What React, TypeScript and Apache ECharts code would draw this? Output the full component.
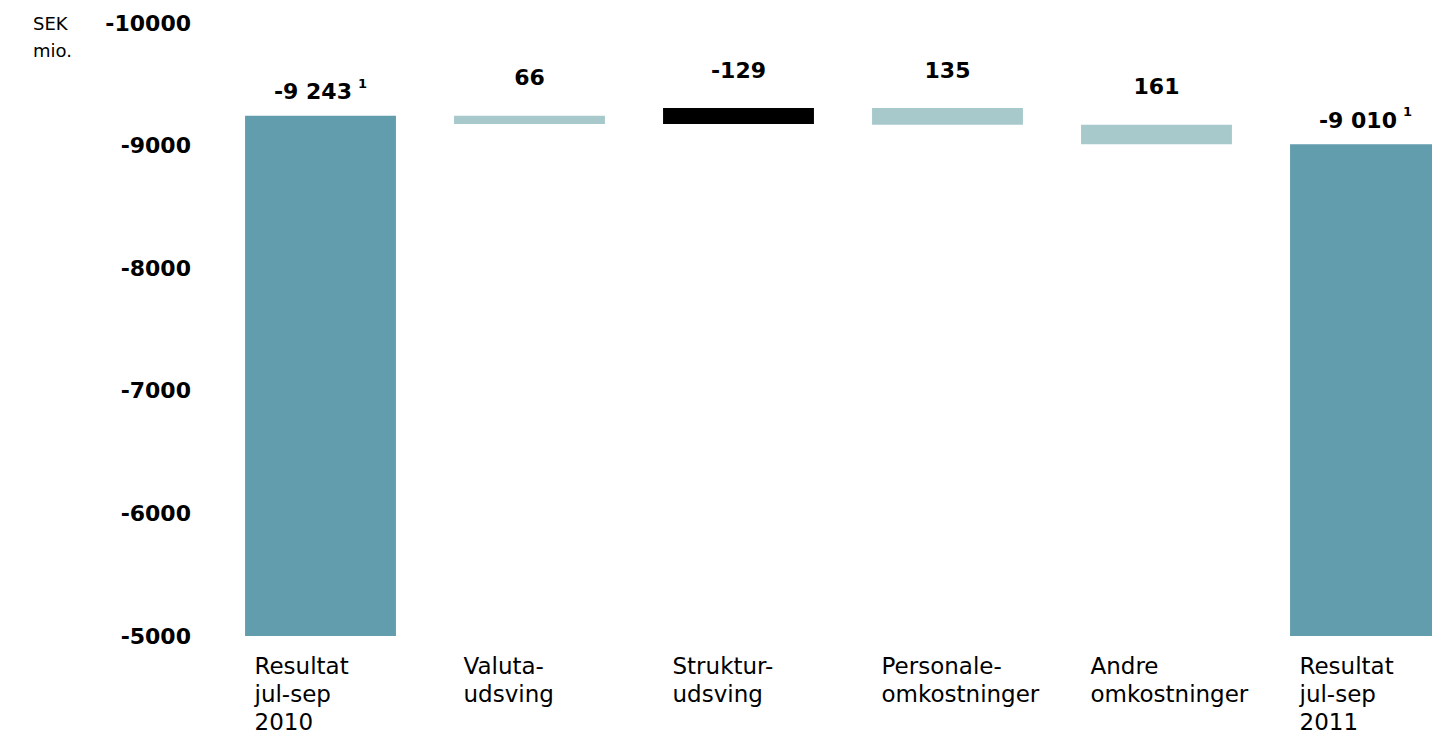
import React, { useEffect, useRef } from "react";
import * as echarts from "echarts";

const categories = [
  "Resultat\njul-sep\n2010",
  "Valuta-\nudsving",
  "Struktur-\nudsving",
  "Personale-\nomkostninger",
  "Andre\nomkostninger",
  "Resultat\njul-sep\n2011",
];
const openingTotal = -9243;
const changes = [66, -129, 135, 161];
const closingTotal = -9010;
const valueLabels = ["-9 243", "66", "-129", "135", "161", "-9 010"];
const footnoteMark = "1";
const yMin = -10000;
const yMax = -5000;
const yStep = 1000;

const TOTAL_COLOR = "#619dad";
const UP_COLOR = "#a8c9cc";
const DOWN_COLOR = "#000000";
const FONT = "DejaVu Sans";

export default function App() {
  const ref = useRef<HTMLDivElement>(null);

  useEffect(() => {
    if (!ref.current) return;
    const chart = echarts.init(ref.current, undefined, { renderer: "svg" });

    const rows: any[] = [];
    rows.push([0, yMax, openingTotal, "total", valueLabels[0]]);
    let running = openingTotal;
    changes.forEach((c, i) => {
      const from = running;
      const to = running + c;
      rows.push([i + 1, from, to, c >= 0 ? "up" : "down", valueLabels[i + 1]]);
      running = to;
    });
    rows.push([categories.length - 1, yMax, closingTotal, "total", valueLabels[valueLabels.length - 1]]);

    const renderItem = (params: any, api: any) => {
      const idx = api.value(0);
      const from = api.value(1);
      const to = api.value(2);
      const row = rows[params.dataIndex];
      const kind = row[3];
      const label = row[4];
      const p1 = api.coord([idx, from]);
      const p2 = api.coord([idx, to]);
      const band = api.size([1, 0])[0];
      const w = band * 0.722;
      const top = Math.min(p1[1], p2[1]);
      const h = Math.abs(p2[1] - p1[1]);
      const fill = kind === "total" ? TOTAL_COLOR : kind === "up" ? UP_COLOR : DOWN_COLOR;
      const isTotal = kind === "total";
      const text = isTotal ? `{v|${label}}{s|${footnoteMark}}` : `{v|${label}}`;
      return {
        type: "group",
        children: [
          {
            type: "rect",
            shape: { x: p1[0] - w / 2, y: top, width: w, height: h },
            style: { fill },
          },
          {
            type: "text",
            x: p1[0],
            y: top - (isTotal ? 24 : 38),
            style: {
              text,
              align: "center",
              verticalAlign: "middle",
              fill: "#000",
              rich: {
                v: { fontFamily: FONT, fontWeight: "bold", fontSize: 22, lineHeight: 30, fill: "#000" },
                s: {
                  fontFamily: FONT,
                  fontWeight: "bold",
                  fontSize: 13,
                  lineHeight: 13,
                  verticalAlign: "top",
                  padding: [0, 0, 0, 6],
                  fill: "#000",
                },
              },
            },
          },
        ],
      };
    };

    chart.setOption({
      animation: false,
      backgroundColor: "#ffffff",
      title: {
        text: "SEK\nmio.",
        left: 33,
        top: 10,
        padding: 0,
        textStyle: { fontFamily: FONT, fontWeight: "normal", fontSize: 18, lineHeight: 27, color: "#000" },
      },
      grid: { left: 216, right: 0, top: 23, bottom: 98, containLabel: false },
      xAxis: {
        type: "category",
        data: categories,
        axisLine: { show: false },
        axisTick: { show: false },
        splitLine: { show: false },
        axisLabel: {
          interval: 0,
          align: "left",
          verticalAlign: "top",
          padding: [0, 0, 0, -66],
          margin: 16,
          fontFamily: FONT,
          fontSize: 23,
          lineHeight: 28,
          color: "#000",
        },
      },
      yAxis: {
        type: "value",
        inverse: true,
        min: yMin,
        max: yMax,
        interval: yStep,
        axisLine: { show: false },
        axisTick: { show: false },
        splitLine: { show: false },
        axisLabel: {
          margin: 25,
          fontFamily: FONT,
          fontWeight: "bold",
          fontSize: 22,
          color: "#000",
          formatter: (v: number) => String(v),
        },
      },
      series: [
        {
          type: "custom",
          renderItem,
          encode: { x: 0, y: [1, 2] },
          data: rows.map((r) => [r[0], r[1], r[2]]),
          clip: true,
        },
      ],
    });

    return () => chart.dispose();
  }, []);

  return (
    <div
      ref={ref}
      style={{ position: "fixed", left: 0, top: 0, width: 1470, height: 736 }}
    />
  );
}
